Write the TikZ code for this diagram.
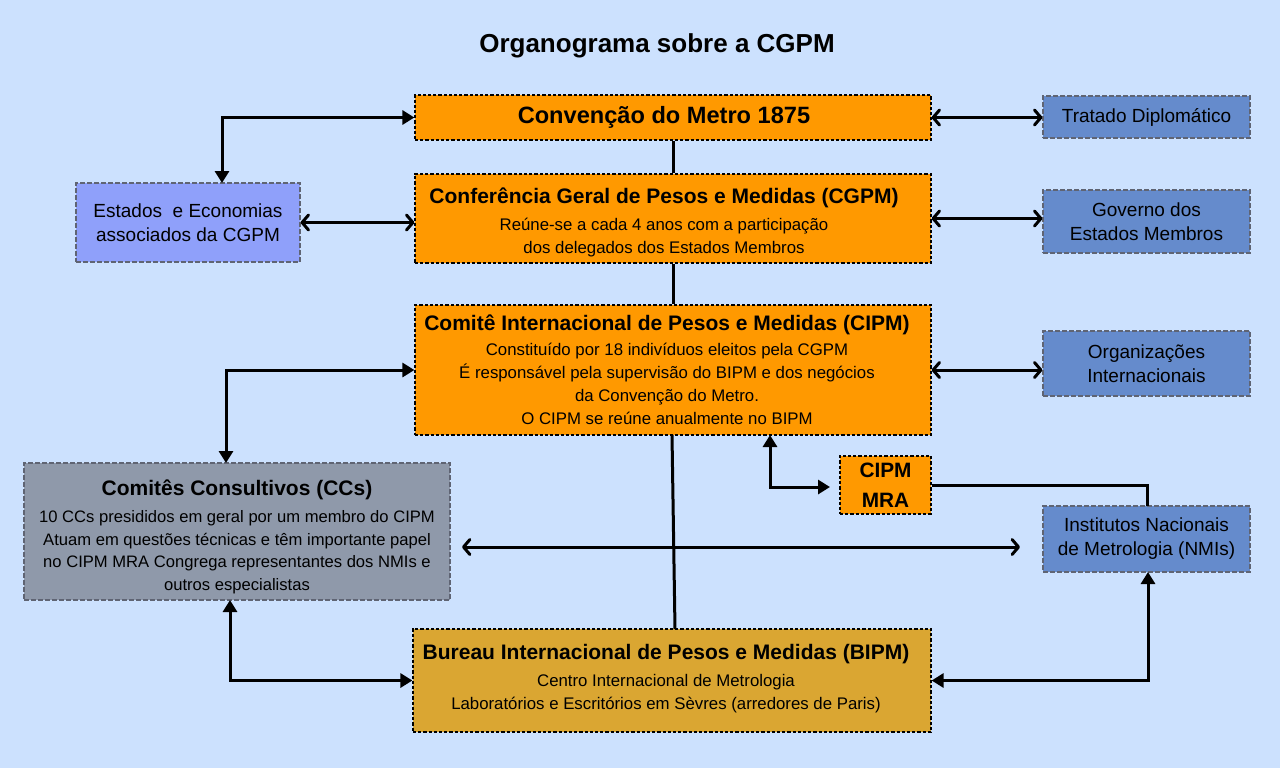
\documentclass[tikz,border=0pt]{standalone}
\usepackage{fontspec}
\setmainfont{Liberation Sans}
\usetikzlibrary{arrows.meta}
\definecolor{bgc}{RGB}{204,225,254}
\definecolor{orng}{RGB}{255,153,0}
\definecolor{blu}{RGB}{101,139,204}
\definecolor{lav}{RGB}{143,160,250}
\definecolor{gry}{RGB}{143,153,170}
\definecolor{goldc}{RGB}{218,166,50}
\definecolor{bord}{RGB}{95,100,115}
\newcommand{\ttlf}{\fontsize{10.5}{13}\selectfont\bfseries}
\tikzset{
  box/.style={rectangle, inner sep=0pt, align=center, line width=0.6pt},
  obox/.style={box, draw=black, dash pattern=on 1.6pt off 1pt, font=\fontsize{8.4}{11.5}\selectfont},
  sbox/.style={box, draw=bord, dash pattern=on 2.5pt off 1pt, font=\fontsize{9.5}{12}\selectfont},
  elb/.style={line width=1.5pt, {Triangle[length=6pt,width=7pt]}-{Triangle[length=6pt,width=7pt]}},
  dbl/.style={line width=1.5pt, line cap=round, {Straight Barb[length=3.2pt,width=7.5pt,round]}-{Straight Barb[length=3.2pt,width=7.5pt,round]}},
  ln/.style={line width=1.5pt}
}
\begin{document}
\begin{tikzpicture}[x=0.5pt,y=-0.5pt]
\fill[bgc] (0,0) rectangle (1280,768);
\useasboundingbox (0,0) rectangle (1280,768);

\node[font=\fontsize{13}{15}\selectfont\bfseries] (title) at (657,46) {Organograma sobre a CGPM};

\node[obox, fill=orng, minimum width=258pt, minimum height=22.5pt] (conv) at (673,117.5)
  {\fontsize{11.8}{14}\selectfont\bfseries Convenção do Metro 1875\kern9pt};
\node[sbox, fill=blu, minimum width=103.5pt, minimum height=21pt] (trat) at (1146.5,117) {Tratado Diplomático};

\node[obox, fill=orng, minimum width=258pt, minimum height=44.5pt] (cgpm) at (673,218.5)
  {{\ttlf\rule{0pt}{11.6pt}Conferência Geral de Pesos e Medidas (CGPM)}\kern9pt\\[2pt]
   Reúne-se a cada 4 anos com a participação\kern9pt\\
   dos delegados dos Estados Membros\kern9pt};
\node[sbox, fill=lav, minimum width=112pt, minimum height=39.5pt] (est) at (188,222.5)
  {Estados\ \ e Economias\\ associados da CGPM};
\node[sbox, fill=blu, minimum width=103.5pt, minimum height=31.5pt] (gov) at (1146.5,221.5)
  {Governo dos\\ Estados Membros};

\node[obox, fill=orng, minimum width=258pt, minimum height=65pt] (cipm) at (673,370)
  {{\ttlf Comitê Internacional de Pesos e Medidas (CIPM)}\kern6pt\\[1pt]
   Constituído por 18 indivíduos eleitos pela CGPM\kern6pt\\
   É responsável pela supervisão do BIPM e dos negócios\kern6pt\\
   da Convenção do Metro.\kern6pt\\
   O CIPM se reúne anualmente no BIPM\kern6pt};
\node[sbox, fill=blu, minimum width=103.5pt, minimum height=32.5pt] (org) at (1146.5,363.5)
  {Organizações\\ Internacionais};

\node[obox, fill=orng, minimum width=45.5pt, minimum height=29pt, font=\fontsize{10.4}{15}\selectfont\bfseries] (mra) at (885.5,485)
  {CIPM\\ MRA};

\node[sbox, fill=gry, minimum width=213pt, minimum height=68.5pt, font=\fontsize{8.3}{11.25}\selectfont] (cc) at (237,531.5)
  {{\ttlf\rule{0pt}{12.8pt}Comitês Consultivos (CCs)}\\[2.5pt]
   10 CCs presididos em geral por um membro do CIPM\\
   Atuam em questões técnicas e têm importante papel\\
   no CIPM MRA Congrega representantes dos NMIs e\\
   outros especialistas};
\node[sbox, fill=blu, minimum width=103.5pt, minimum height=33pt] (nmi) at (1146.5,539)
  {Institutos Nacionais\\ de Metrologia (NMIs)};

\node[obox, fill=goldc, minimum width=259pt, minimum height=51.5pt] (bipm) at (672,680.5)
  {{\ttlf Bureau Internacional de Pesos e Medidas (BIPM)}\kern6pt\\[2pt]
   Centro Internacional de Metrologia\kern6pt\\
   Laboratórios e Escritórios em Sèvres (arredores de Paris)\kern6pt\\[-8pt]\mbox{}};

% connectors
\coordinate (estN) at (222,183);
\draw[elb] (conv.west) -| (estN);
\draw[dbl] (conv.east) -- (conv.east -| trat.west);
\draw[ln] (conv.south) -- (cgpm.north);
\draw[dbl] (est.east) -- (est.east -| cgpm.west);
\draw[dbl] (cgpm.east) -- (cgpm.east -| gov.west);
\draw[ln] (cgpm.south) -- (cipm.north);
\coordinate (ccN) at (226,463);
\draw[elb] (cipm.west) -| (ccN);
\draw[dbl] (cipm.east) -- (cipm.east -| org.west);
\coordinate (cipmB) at (770,435);
\coordinate (mraL) at (830,487);
\draw[elb] (cipmB) |- (mraL);
\coordinate (nmiN) at (1147,506);
\draw[ln] (mra.east) -| (nmiN);
\coordinate (cipmS) at (672,435);
\coordinate (bipmN) at (675,629);
\draw[ln] (cipmS) -- (bipmN);
\coordinate (h1) at (462,547);
\coordinate (h2) at (1020,547);
\draw[dbl] (h1) -- (h2);
\coordinate (ccS) at (230,600);
\draw[elb] (ccS) |- (bipm.west);
\coordinate (nmiS) at (1148,572);
\draw[elb] (bipm.east) -| (nmiS);
\end{tikzpicture}
\end{document}
